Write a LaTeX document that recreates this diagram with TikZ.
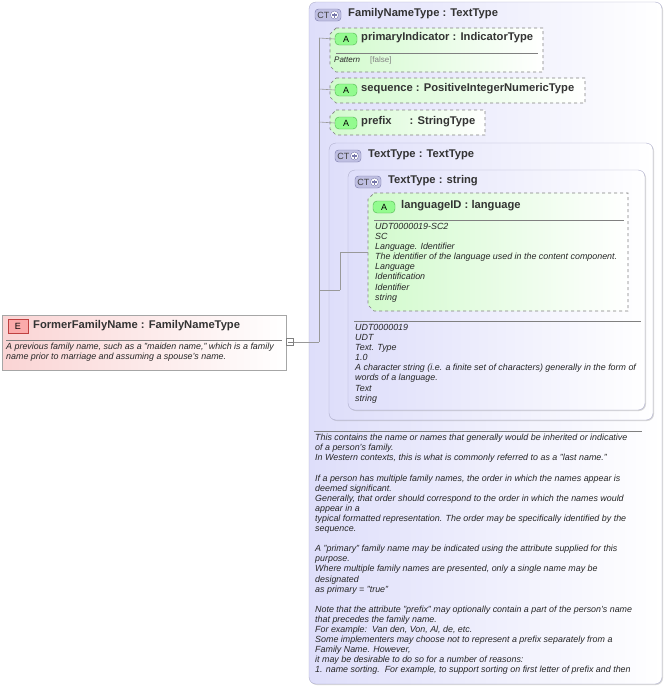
\documentclass[tikz,border=0pt]{standalone}
\usepackage{fontspec}
\setmainfont{Liberation Sans}
\usetikzlibrary{shadows}
\definecolor{lav}{RGB}{222,222,250}
\definecolor{lavd}{RGB}{120,120,170}
\definecolor{grn}{RGB}{210,250,205}
\definecolor{pnk}{RGB}{250,212,212}
\tikzset{
 ctbox/.style={draw=lavd!60, rounded corners=7pt, left color=lav, right color=white, drop shadow={opacity=0.3,shadow xshift=1pt,shadow yshift=-1pt}},
 attbox/.style={draw=gray, dashed, line width=0.7pt, left color=grn, right color=white},
 doc/.style={anchor=north west, align=left, font=\fontsize{8.9}{10.1}\selectfont\itshape, inner sep=0pt, text=black!85},
 ttl/.style={anchor=west, font=\fontsize{11.2}{12}\selectfont\bfseries, inner sep=0pt, text=black!80},
 badge/.style={draw=lavd, fill=lav!70!lavd, rounded corners=3.5pt, font=\fontsize{9}{10}\selectfont, inner sep=0pt, minimum height=12pt, minimum width=26pt, text=black!75},
 abadge/.style={draw=gray!60!green, fill=grn!70!green, rounded corners=4pt, font=\fontsize{9}{10}\selectfont, inner sep=0pt, minimum height=12pt, minimum width=22pt},
 tline/.style={draw=gray!80, line width=0.6pt},
}
\newcommand{\attshape}[4]{% x1 y1 x2 y2
 \path[attbox] (#1+6,#2) -- (#3,#2) -- (#3,#4) -- (#1+6,#4) -- (#1,#4-6) -- (#1,#2+6) -- cycle;}
\newcommand{\ctlabel}{CT\hspace{1pt}\tikz[baseline=-3pt]{\fill[white,draw=lavd] (0,0) circle (4pt);\draw[lavd,line width=1.4pt] (-2.5pt,0)--(2.5pt,0) (0,-2.5pt)--(0,2.5pt);}}
\begin{document}
\begin{tikzpicture}[x=1pt,y=-1pt]
\useasboundingbox (0,0) rectangle (666,686);
\fill[white] (0,0) rectangle (666,686);
% outer complex type
\path[ctbox] (309,2) rectangle (662,684);
\node[badge] (ct1) at (328,15) {\ctlabel};
\node[ttl] (t1) at (348,14) {FamilyNameType : TextType};
% tree
\coordinate (vtop) at (319,38);
\coordinate (vbot) at (319,342);
\draw[tline] (vtop) -- (vbot);
% primaryIndicator
\attshape{330}{28}{543}{72}
\node[abadge] (a1) at (346,39) {A};
\node[ttl] (n1) at (361,38) {primaryIndicator : IndicatorType};
\draw[gray] (336,53) -- (538,53);
\node[doc] (p1) at (334,56) {\fontsize{8}{9}\selectfont Pattern \quad \upshape\textcolor{gray}{[false]}};
\draw[tline] (319,38) -- (a1.west);
% sequence
\attshape{330}{78}{585}{103}
\node[abadge] (a2) at (346,90) {A};
\node[ttl] (n2) at (361,89) {sequence : PositiveIntegerNumericType};
\draw[tline] (319,89) -- (a2.west);
% prefix
\attshape{330}{110}{485}{135}
\node[abadge] (a3) at (346,123) {A};
\node[ttl] (n3) at (361,122) {prefix\hspace{18pt}: StringType};
\draw[tline] (319,122) -- (a3.west);
% TextType : TextType
\path[ctbox] (329,143) rectangle (653,420);
\node[badge] (ct2) at (348,156) {\ctlabel};
\node[ttl] (t2) at (368,155) {TextType : TextType};
% TextType : string
\path[ctbox] (348,170) rectangle (645,410);
\node[badge] (ct3) at (368,182) {\ctlabel};
\node[ttl] (t3) at (388,181) {TextType : string};
\draw[tline] (319,290) -- (340,290);
\draw[tline] (340,252) -- (340,290);
% languageID
\attshape{368}{193}{628}{311}
\node[abadge] (a4) at (384,207) {A};
\node[ttl] (n4) at (401,206) {languageID : language};
\draw[tline] (340,252) -- (368,252);
\draw[gray] (374,220) -- (624,220);
\node[doc] (d4) at (375,223) {UDT0000019-SC2\\SC\\Language. Identifier\\The identifier of the language used in the content component.\\Language\\Identification\\Identifier\\string};
\draw[gray] (354,321) -- (641,321);
\node[doc] (d3) at (355,324) {UDT0000019\\UDT\\Text. Type\\1.0\\A character string (i.e. a finite set of characters) generally in the form of\\words of a language.\\Text\\string};
% outer doc
\draw[gray] (314,431) -- (642,431);
\node[doc] (d1) at (315,434) {This contains the name or names that generally would be inherited or indicative\\of a person's family.\\In Western contexts, this is what is commonly referred to as a "last name."\\[10.1pt]If a person has multiple family names, the order in which the names appear is\\deemed significant.\\Generally, that order should correspond to the order in which the names would\\appear in a\\typical formatted representation. The order may be specifically identified by the\\sequence.\\[10.1pt]A "primary" family name may be indicated using the attribute supplied for this\\purpose.\\Where multiple family names are presented, only a single name may be\\designated\\as primary = "true"\\[10.1pt]Note that the attribute "prefix" may optionally contain a part of the person's name\\that precedes the family name.\\For example:\ \ Van den, Von, Al, de, etc.\\Some implementers may choose not to represent a prefix separately from a\\Family Name. However,\\it may be desirable to do so for a number of reasons:\\1. name sorting.\ \ For example, to support sorting on first letter of prefix and then};
% element
\path[draw=gray!70, left color=pnk, right color=white, drop shadow={opacity=0.3,shadow xshift=1pt,shadow yshift=-1pt}] (2,315) rectangle (286,370);
\node[draw=red!50!gray, fill=pnk!80!red, font=\fontsize{9}{10}\selectfont, minimum width=20pt, minimum height=14pt, inner sep=1pt] (eb) at (18,326) {E};
\node[ttl] (e1) at (33,326) {FormerFamilyName : FamilyNameType};
\draw[gray] (6,340) -- (282,340);
\node[doc] (ed) at (6,343) {A previous family name, such as a "maiden name," which is a family\\name prior to marriage and assuming a spouse's name.};
\node[draw=gray, fill=white, minimum size=7pt, inner sep=0pt] (mn) at (290,342) {};
\draw[gray] (287.5,342) -- (292.5,342);
\draw[tline] (mn.east) -- (vbot);
\end{tikzpicture}
\end{document}
